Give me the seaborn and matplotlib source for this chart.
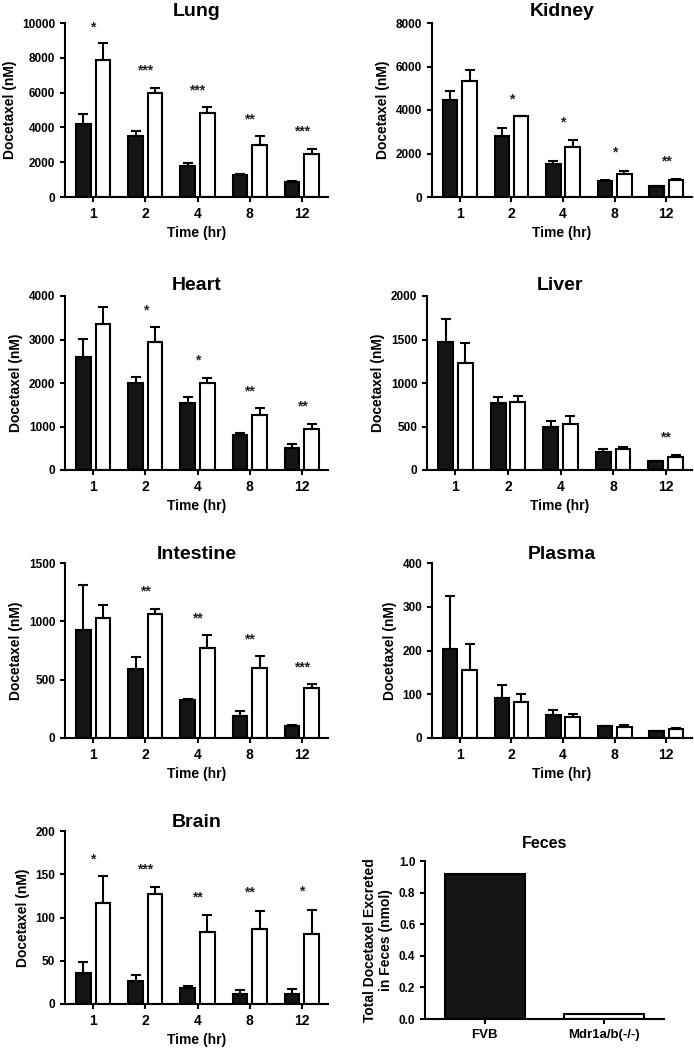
"""
Docetaxel tissue distribution in FVB vs Mdr1a/b(-/-) mice.
"""

import numpy as np
import matplotlib.pyplot as plt
import pandas as pd
import seaborn as sns

times = ["1", "2", "4", "8", "12"]
strains = ["FVB", "Mdr1a/b(-/-)"]

# mean and upper SEM per strain
lung_fvb = [4190, 3500, 1810, 1250, 865]
lung_fvb_sem = [580, 290, 150, 60, 35]
lung_ko = [7885, 6000, 4810, 2980, 2500]
lung_ko_sem = [960, 250, 340, 520, 270]
lung_stars = ["*", "***", "***", "**", "***"]
lung_star_y = [10000, 7500, 6380, 4710, 3980]

kidney_fvb = [4444, 2789, 1533, 736, 490]
kidney_fvb_sem = [430, 383, 122, 30, 31]
kidney_ko = [5318, 3709, 2299, 1042, 766]
kidney_ko_sem = [506, 30, 337, 169, 77]
kidney_stars = ["", "*", "*", "*", "**"]
kidney_star_y = [0, 4674, 3601, 2222, 1808]

heart_fvb = [2590, 1992, 1533, 805, 498]
heart_fvb_sem = [414, 138, 137, 38, 92]
heart_ko = [3356, 2943, 1992, 1264, 935]
heart_ko_sem = [399, 337, 115, 154, 122]
heart_stars = ["", "*", "*", "**", "**"]
heart_star_y = [0, 3770, 2605, 1893, 1548]

liver_fvb = [1475, 766, 498, 211, 103]
liver_fvb_sem = [257, 77, 69, 27, 4]
liver_ko = [1234, 785, 529, 241, 153]
liver_ko_sem = [222, 66, 92, 20, 19]
liver_stars = ["", "", "", "", "**"]
liver_star_y = [0, 0, 0, 0, 421]

intestine_fvb = [929, 594, 323, 191, 100]
intestine_fvb_sem = [385, 100, 11, 38, 11]
intestine_ko = [1029, 1066, 774, 597, 429]
intestine_ko_sem = [114, 40, 109, 103, 34]
intestine_stars = ["", "**", "**", "**", "***"]
intestine_star_y = [0, 1286, 1063, 883, 643]

plasma_fvb = [203, 91, 53, 27, 16]
plasma_fvb_sem = [121, 31, 12, 1.5, 1]
plasma_ko = [155, 82, 48, 25, 21]
plasma_ko_sem = [60, 19, 7, 4, 3]
plasma_stars = ["", "", "", "", ""]
plasma_star_y = [0, 0, 0, 0, 0]

brain_fvb = [36, 27, 18.5, 12, 11.5]
brain_fvb_sem = [12, 6, 2.5, 4, 5.5]
brain_ko = [117, 127, 83, 87, 81]
brain_ko_sem = [31, 8, 20, 21, 28]
brain_stars = ["*", "***", "**", "**", "*"]
brain_star_y = [172, 160, 128, 133, 135]

feces_values = [0.915, 0.03]

palette = {"FVB": "#141414", "Mdr1a/b(-/-)": "white"}


def setup_style():
    sns.set_theme(style="ticks")
    plt.rcParams["font.family"] = ["Liberation Sans", "DejaVu Sans"]
    plt.rcParams["font.weight"] = "bold"
    plt.rcParams["axes.labelweight"] = "bold"
    plt.rcParams["axes.linewidth"] = 1.5
    plt.rcParams["xtick.major.width"] = 1.5
    plt.rcParams["ytick.major.width"] = 1.5
    plt.rcParams["xtick.major.size"] = 3.5
    plt.rcParams["ytick.major.size"] = 3.5
    plt.rcParams["xtick.labelsize"] = 10
    plt.rcParams["ytick.labelsize"] = 8.5
    plt.rcParams["xtick.color"] = "black"
    plt.rcParams["ytick.color"] = "black"
    plt.rcParams["text.color"] = "black"
    plt.rcParams["axes.labelcolor"] = "black"
    plt.rcParams["axes.titlecolor"] = "black"
    plt.rcParams["axes.edgecolor"] = "black"


def tissue_panel(fig, rect, name, fvb, fvb_sem, ko, ko_sem, stars, star_y,
                 ymax, ystep, title_pad):
    ax = fig.add_axes(rect)
    df = pd.DataFrame({
        "time": times * 2,
        "strain": [strains[0]] * 5 + [strains[1]] * 5,
        "value": fvb + ko,
    })
    sns.barplot(data=df, x="time", y="value", hue="strain", order=times,
                hue_order=strains, palette=palette, saturation=1,
                edgecolor="black", linewidth=1.5, width=0.75, gap=0.25,
                errorbar=None, legend=False, ax=ax)
    for cont, means, sems in zip(ax.containers, [fvb, ko], [fvb_sem, ko_sem]):
        xs = [p.get_x() + p.get_width() / 2 for p in cont]
        ax.errorbar(xs, means, yerr=[np.zeros(5), sems], fmt="none",
                    ecolor="black", elinewidth=1.5, capsize=3.5, capthick=1.5,
                    zorder=1)
    for i, (s, y) in enumerate(zip(stars, star_y)):
        if s:
            ax.annotate(s, (i, y), xytext=(0, -8), textcoords="offset pixels",
                        ha="center", va="baseline", fontsize=10,
                        fontweight="bold", color="#222222")
    ax.set_xlim(-0.54, 4.5)
    ax.set_ylim(0, ymax)
    ax.set_yticks(np.arange(0, ymax + ystep / 2, ystep))
    ax.set_title(name, fontsize=14, fontweight="bold", pad=title_pad)
    ax.set_xlabel("Time (hr)", fontsize=10)
    ax.set_ylabel("Docetaxel (nM)", fontsize=10)
    sns.despine(ax=ax)
    return ax


setup_style()
fig = plt.figure(figsize=(6.94, 10.5), dpi=100)

W, H = 694, 1050


def rect(x0, y0, x1, y1):
    return [x0 / W, 1 - y1 / H, (x1 - x0) / W, (y1 - y0) / H]


tissue_panel(fig, rect(65, 23, 328, 197), "Lung", lung_fvb, lung_fvb_sem,
             lung_ko, lung_ko_sem, lung_stars, lung_star_y, 10000, 2000, 5)
tissue_panel(fig, rect(432, 23, 692, 197), "Kidney", kidney_fvb, kidney_fvb_sem,
             kidney_ko, kidney_ko_sem, kidney_stars, kidney_star_y, 8000, 2000, 5)
tissue_panel(fig, rect(65, 296, 328, 470), "Heart", heart_fvb, heart_fvb_sem,
             heart_ko, heart_ko_sem, heart_stars, heart_star_y, 4000, 1000, 4)
tissue_panel(fig, rect(427, 296, 692, 470), "Liver", liver_fvb, liver_fvb_sem,
             liver_ko, liver_ko_sem, liver_stars, liver_star_y, 2000, 500, 4)
tissue_panel(fig, rect(65, 563, 328, 738), "Intestine", intestine_fvb,
             intestine_fvb_sem, intestine_ko, intestine_ko_sem, intestine_stars,
             intestine_star_y, 1500, 500, 1)
tissue_panel(fig, rect(432, 563, 692, 738), "Plasma", plasma_fvb, plasma_fvb_sem,
             plasma_ko, plasma_ko_sem, plasma_stars, plasma_star_y, 400, 100, 1)
tissue_panel(fig, rect(65, 831, 328, 1004), "Brain", brain_fvb, brain_fvb_sem,
             brain_ko, brain_ko_sem, brain_stars, brain_star_y, 200, 50, 2)

# Feces panel
ax = fig.add_axes(rect(425, 861, 664, 1019))
feces_df = pd.DataFrame({"strain": strains, "value": feces_values})
sns.barplot(data=feces_df, x="strain", y="value", hue="strain", palette=palette,
            saturation=1, edgecolor="black", linewidth=1.5, width=0.67,
            errorbar=None, legend=False, ax=ax)
ax.set_xlim(-0.5, 1.5)
ax.set_ylim(0, 1.0)
ax.set_yticks(np.arange(0, 1.01, 0.2))
ax.yaxis.set_major_formatter(plt.FormatStrFormatter("%.1f"))
ax.tick_params(axis="x", labelsize=9.5)
ax.set_title("Feces", fontsize=11.5, fontweight="bold", pad=9)
ax.set_xlabel("")
ax.set_ylabel("Total Docetaxel Excreted\nin Feces (nmol)", fontsize=10)
sns.despine(ax=ax)

plt.savefig("out.png", dpi=100)
plt.close()
